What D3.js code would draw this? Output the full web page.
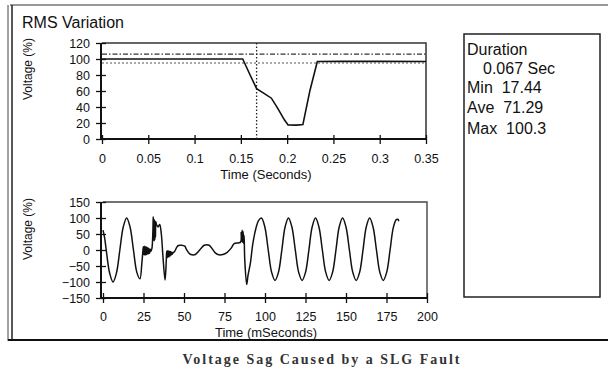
<!DOCTYPE html>
<html>
<head>
<meta charset="utf-8">
<script src="https://cdn.jsdelivr.net/npm/d3@7"></script>
<style>
  body { margin: 0; background: #fff; }
  svg text { font-family: "Liberation Sans", Arial, sans-serif; fill: #111; }
</style>
</head>
<body>
<svg id="chart" width="608" height="371"></svg>
<script>
// ---- data ----
const rmsTime = [0, 0.152, 0.16, 0.167, 0.175, 0.183, 0.19, 0.197, 0.201, 0.21, 0.217, 0.2247, 0.2326, 0.26, 0.3, 0.35];
const rmsValue = [100, 100, 80, 63, 57, 51, 38, 24, 17.5, 17.4, 18, 61, 96.8, 97, 97, 96.8];
const upperLimit = 106;
const lowerLimit = 95;
const eventStart = 0.167;

const topXTicks = [0, 0.05, 0.1, 0.15, 0.2, 0.25, 0.3, 0.35];
const topYTicks = [0, 20, 40, 60, 80, 100, 120];
const botXTicks = [0, 25, 50, 75, 100, 125, 150, 175, 200];
const botYTicks = [-150, -100, -50, 0, 50, 100, 150];

// waveform samples [ms, %]
const wave = [
  [0, 62], [1, 38], [2, 0], [4.1, -72], [6.2, -100], [8.3, -72], [10.4, 0], [12.5, 72], [14.6, 100],
  [16.7, 72], [18.8, 0], [20.9, -70], [22.8, -90],
  [24, -40], [24.6, -5], [24.9, 10], [25.2, -14], [25.5, 12], [25.8, -16], [26.1, 10], [26.4, -15],
  [26.7, 9], [27, -14], [27.3, 8], [27.6, -12], [27.9, 6], [28.2, -12], [28.5, 4], [28.8, -10],
  [29.1, 2], [29.6, -4], [30.2, 5], [30.8, 60], [31.0, 104], [31.2, 30], [31.4, 98], [31.6, 28],
  [31.8, 94], [32, 32], [32.2, 90], [32.4, 40], [32.6, 88], [33, 80], [34, 72], [35, 80],
  [36, 50], [37, -20], [38.3, -94], [39, -40], [39.3, -4], [39.6, -24], [39.9, -2], [40.2, -22],
  [40.5, -3], [40.8, -21], [41.1, -4], [41.4, -19], [41.7, -5], [42, -16], [42.4, -7], [42.8, -13],
  [43.3, -8], [44, -6], [45.5, 8], [46.5, 14], [48.5, 15], [50.5, 12], [51.5, 2], [53.5, -12], [55, -15],
  [57, -14], [59, -4], [61, 8], [62.5, 15], [65.5, 15], [67.5, 3], [69.5, -10], [71.5, -15], [74, -14],
  [76.5, -8], [79, 5], [81, 20], [83.5, 22], [85, 25], [85.3, 55], [85.6, 28], [85.9, 62],
  [86.2, 24], [86.5, 58], [86.8, 20], [87.1, 45], [87.5, -30], [88.7, -108], [89.5, -80],
  [91, -40], [92.5, 20], [94.5, 70], [96, 92], [97.8, 100],
  [99.9, 72], [102, 0], [104.1, -70], [106.2, -95], [108.3, -70], [110.4, 0], [112.4, 72], [114.5, 100],
  [116.6, 72], [118.7, 0], [120.8, -70], [122.9, -95], [125, -70], [127.1, 0], [129.1, 72], [131.2, 100],
  [133.3, 72], [135.4, 0], [137.5, -70], [139.6, -95], [141.7, -70], [143.8, 0], [145.8, 72], [147.9, 100],
  [150, 72], [152.1, 0], [154.2, -70], [156.3, -95], [158.4, -70], [160.5, 0], [162.5, 72], [164.6, 100],
  [166.7, 72], [168.8, 0], [170.9, -70], [173, -95], [175.1, -70], [177.2, 0], [179.2, 70], [181, 95],
  [182, 96], [182.6, 90]
];

const statLabels = ["Duration", "0.067 Sec", "Min  17.44", "Ave  71.29", "Max  100.3"];
const statIndent = [0, 1, 0, 0, 0];

const svg = d3.select("#chart");

// outer frame
svg.append("line").attr("x1", 10).attr("x2", 608).attr("y1", 5).attr("y2", 5)
  .attr("stroke", "#333").attr("stroke-width", 1.2);
svg.append("line").attr("x1", 8).attr("x2", 8).attr("y1", 5).attr("y2", 341)
  .attr("stroke", "#444").attr("stroke-width", 1);
svg.append("line").attr("x1", 12).attr("x2", 12).attr("y1", 5).attr("y2", 341)
  .attr("stroke", "#222").attr("stroke-width", 1.5);
svg.append("line").attr("x1", 8).attr("x2", 608).attr("y1", 340).attr("y2", 340)
  .attr("stroke", "#111").attr("stroke-width", 2.2);

svg.append("text").attr("x", 22).attr("y", 28).attr("font-size", "16px").text("RMS Variation");

// ---- top: RMS ----
const x1 = d3.scaleLinear().domain([0, 0.35]).range([102, 426]);
const y1 = d3.scaleLinear().domain([0, 120]).range([139, 43]);

function crossAxis(g, axis) {
  g.call(axis);
  g.select(".domain").remove();
  g.selectAll(".tick line").attr("stroke", "#111").attr("stroke-width", 1.3);
  g.selectAll(".tick text").attr("font-size", "12.5px").attr("fill", "#111");
}

// frame top/right
svg.append("path")
  .attr("d", `M${x1(0)},${y1(120)}H${x1(0.35)}V${y1(0)}`)
  .attr("fill", "none").attr("stroke", "#333").attr("stroke-width", 1.5);

svg.append("g").attr("transform", `translate(0,${y1(0)})`)
  .call(g => crossAxis(g, d3.axisBottom(x1).tickValues(topXTicks).tickFormat(d3.format("~g")).tickSize(5).tickPadding(10)));
svg.append("g").attr("transform", `translate(0,${y1(0)})`)
  .call(g => crossAxis(g, d3.axisBottom(x1).tickValues(topXTicks).tickFormat("").tickSize(-4)));
svg.append("g").attr("transform", `translate(${x1(0) - 1},0)`)
  .call(g => crossAxis(g, d3.axisLeft(y1).tickValues(topYTicks).tickSize(5).tickPadding(6)));
svg.append("g").attr("transform", `translate(${x1(0) - 1},0)`)
  .call(g => crossAxis(g, d3.axisLeft(y1).tickValues(topYTicks).tickFormat("").tickSize(-5)));

svg.append("line").attr("x1", x1(0) - 1).attr("x2", x1(0) - 1).attr("y1", y1(120)).attr("y2", y1(0) + 1)
  .attr("stroke", "#111").attr("stroke-width", 2);
svg.append("line").attr("x1", x1(0) - 2).attr("x2", x1(0.35)).attr("y1", y1(0)).attr("y2", y1(0))
  .attr("stroke", "#111").attr("stroke-width", 2);

// limit lines
svg.append("line").attr("x1", x1(0)).attr("x2", x1(0.35)).attr("y1", y1(upperLimit)).attr("y2", y1(upperLimit))
  .attr("stroke", "#333").attr("stroke-width", 1.2).attr("stroke-dasharray", "5,2,1.5,2");
svg.append("line").attr("x1", x1(0)).attr("x2", x1(0.35)).attr("y1", y1(lowerLimit)).attr("y2", y1(lowerLimit))
  .attr("stroke", "#555").attr("stroke-width", 1.1).attr("stroke-dasharray", "2,2");
svg.append("line").attr("x1", x1(eventStart)).attr("x2", x1(eventStart)).attr("y1", y1(120)).attr("y2", y1(0))
  .attr("stroke", "#222").attr("stroke-width", 1.3).attr("stroke-dasharray", "1.5,2");

const rmsLine = d3.line().x((d, i) => x1(rmsTime[i])).y(d => y1(d)).curve(d3.curveLinear);
svg.append("path").attr("d", rmsLine(rmsValue))
  .attr("fill", "none").attr("stroke", "#111").attr("stroke-width", 1.6);

svg.append("text").attr("x", 266).attr("y", 179).attr("text-anchor", "middle").attr("font-size", "13px").text("Time (Seconds)");
svg.append("text").attr("transform", "translate(32,69) rotate(-90)").attr("text-anchor", "middle")
  .attr("font-size", "12px").text("Voltage (%)");

// ---- bottom: waveform ----
const x2 = d3.scaleLinear().domain([0, 200]).range([103, 427]);
const y2 = d3.scaleLinear().domain([-150, 150]).range([298, 202]);

svg.append("path")
  .attr("d", `M${x2(0)},${y2(150)}H${x2(200)}V${y2(-150)}`)
  .attr("fill", "none").attr("stroke", "#444").attr("stroke-width", 1.4);

svg.append("g").attr("transform", `translate(0,${y2(-150)})`)
  .call(g => crossAxis(g, d3.axisBottom(x2).tickValues(botXTicks).tickSize(5).tickPadding(9)));
svg.append("g").attr("transform", `translate(0,${y2(-150)})`)
  .call(g => crossAxis(g, d3.axisBottom(x2).tickValues(botXTicks).tickFormat("").tickSize(-5)));
svg.append("g").attr("transform", `translate(${x2(0) - 2},0)`)
  .call(g => crossAxis(g, d3.axisLeft(y2).tickValues(botYTicks).tickSize(5).tickPadding(6)));
svg.append("g").attr("transform", `translate(${x2(0) - 2},0)`)
  .call(g => crossAxis(g, d3.axisLeft(y2).tickValues(botYTicks).tickFormat("").tickSize(-5)));

svg.append("line").attr("x1", x2(0) - 2).attr("x2", x2(0) - 2).attr("y1", y2(150)).attr("y2", y2(-150) + 1)
  .attr("stroke", "#111").attr("stroke-width", 2);
svg.append("line").attr("x1", x2(0) - 3).attr("x2", x2(200)).attr("y1", y2(-150)).attr("y2", y2(-150))
  .attr("stroke", "#111").attr("stroke-width", 2);

const waveLine = d3.line().x(d => x2(d[0])).y(d => y2(d[1])).curve(d3.curveCatmullRom.alpha(0.5));
svg.append("path").attr("d", waveLine(wave))
  .attr("fill", "none").attr("stroke", "#111").attr("stroke-width", 1.5);

svg.append("text").attr("x", 266).attr("y", 337).attr("text-anchor", "middle").attr("font-size", "13px").text("Time (mSeconds)");
svg.append("text").attr("transform", "translate(32,229) rotate(-90)").attr("text-anchor", "middle")
  .attr("font-size", "12px").text("Voltage (%)");

// ---- stats box ----
svg.append("rect").attr("x", 464).attr("y", 34).attr("width", 136).attr("height", 263)
  .attr("fill", "none").attr("stroke", "#222").attr("stroke-width", 1.5);
svg.append("g").selectAll("text").data(statLabels).enter().append("text")
  .attr("x", (d, i) => statIndent[i] ? 483 : 467)
  .attr("y", (d, i) => [55, 74, 93, 113, 134][i])
  .attr("font-size", "16px").style("white-space", "pre")
  .text(d => d);

// caption
svg.append("text").attr("x", 321).attr("y", 364).attr("text-anchor", "middle")
  .style("font-family", "'Liberation Serif', 'Times New Roman', serif")
  .attr("font-size", "14px").attr("font-weight", "bold").style("fill", "#333")
  .attr("textLength", 277).attr("lengthAdjust", "spacing")
  .text("Voltage Sag Caused by a SLG Fault");
</script>
</body>
</html>
